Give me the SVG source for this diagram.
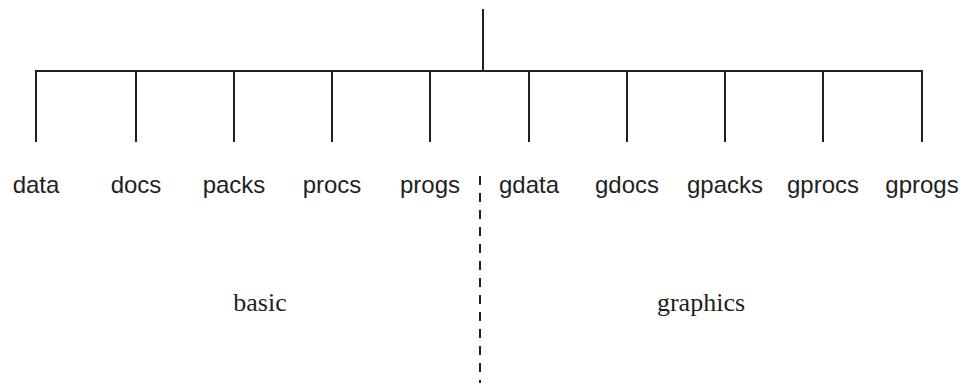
<svg xmlns="http://www.w3.org/2000/svg" width="965" height="383" viewBox="0 0 965 383">
<style>
.ln{stroke:#231f20;stroke-width:2;fill:none;stroke-linecap:butt}
.dash{stroke:#231f20;stroke-width:2;fill:none;stroke-dasharray:9 8}
.leaf{font-family:"Liberation Sans",Arial,sans-serif;font-size:24px;fill:#231f20;text-anchor:middle}
.grp{font-family:"Liberation Serif","Times New Roman",serif;font-size:26px;fill:#231f20;text-anchor:middle}
</style>
<rect width="965" height="383" fill="#ffffff"/>
<g id="connectors">
<line class="ln" x1="483" y1="9" x2="483" y2="71"/>
<line class="ln" x1="35" y1="71" x2="923" y2="71"/>
<line class="ln" x1="36" y1="70" x2="36" y2="142"/>
<line class="ln" x1="136" y1="71" x2="136" y2="142"/>
<line class="ln" x1="234" y1="71" x2="234" y2="142"/>
<line class="ln" x1="332" y1="71" x2="332" y2="142"/>
<line class="ln" x1="430" y1="71" x2="430" y2="142"/>
<line class="ln" x1="529" y1="71" x2="529" y2="142"/>
<line class="ln" x1="627" y1="71" x2="627" y2="142"/>
<line class="ln" x1="725" y1="71" x2="725" y2="142"/>
<line class="ln" x1="823" y1="71" x2="823" y2="142"/>
<line class="ln" x1="922" y1="70" x2="922" y2="142"/>
</g>
<g id="node-data"><text class="leaf" x="36" y="193">data</text></g>
<g id="node-docs"><text class="leaf" x="136" y="193">docs</text></g>
<g id="node-packs"><text class="leaf" x="234" y="193">packs</text></g>
<g id="node-procs"><text class="leaf" x="332" y="193">procs</text></g>
<g id="node-progs"><text class="leaf" x="430" y="193">progs</text></g>
<g id="node-gdata"><text class="leaf" x="529" y="193">gdata</text></g>
<g id="node-gdocs"><text class="leaf" x="627" y="193">gdocs</text></g>
<g id="node-gpacks"><text class="leaf" x="725" y="193">gpacks</text></g>
<g id="node-gprocs"><text class="leaf" x="823" y="193">gprocs</text></g>
<g id="node-gprogs"><text class="leaf" x="922" y="193">gprogs</text></g>
<g id="divider"><line class="dash" x1="480" y1="176" x2="480" y2="383"/></g>
<g id="label-basic"><text class="grp" x="260" y="311">basic</text></g>
<g id="label-graphics"><text class="grp" x="701" y="311">graphics</text></g>
</svg>
